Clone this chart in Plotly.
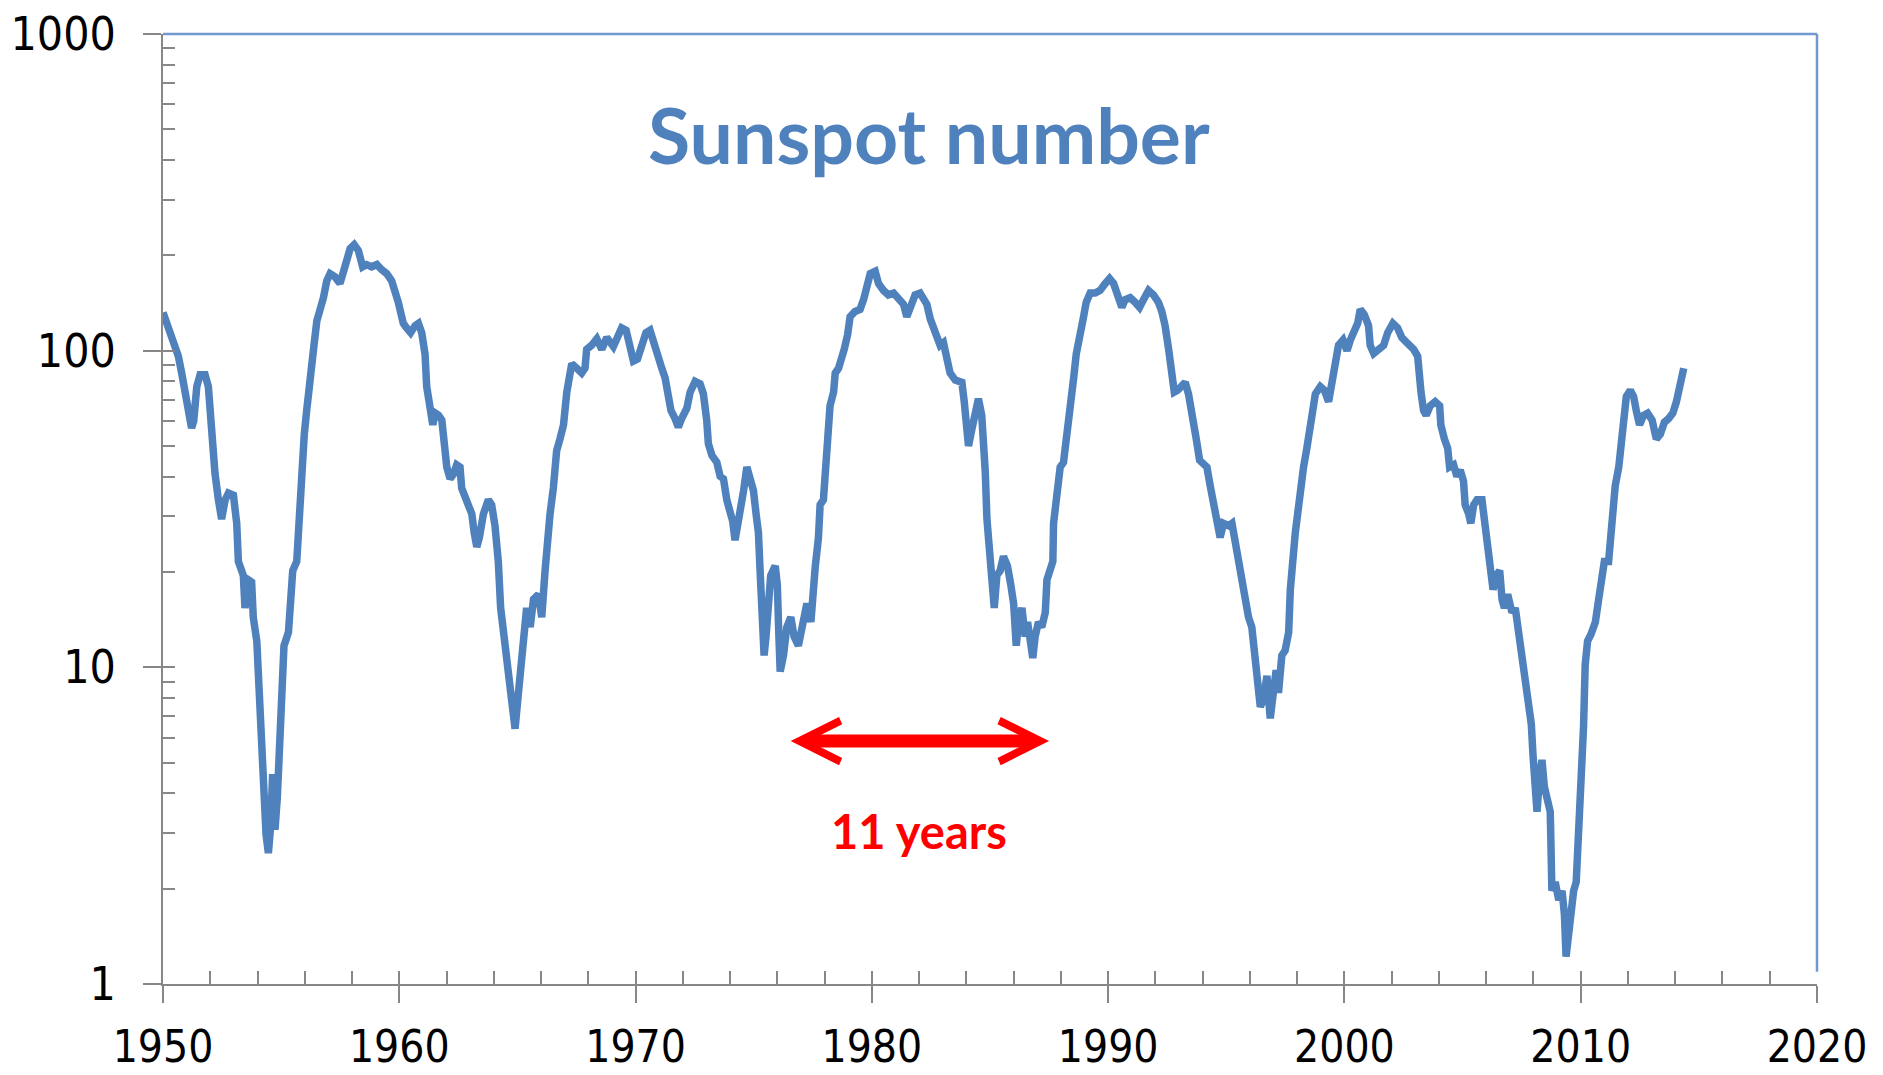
import math
import plotly.graph_objects as go

# Sunspot number read per ~0.15 yr, grouped by solar cycle (year, value)
cycle18_tail = [
    (1950.0, 132), (1950.23, 118), (1950.44, 106), (1950.65, 96), (1950.79, 85),
    (1950.93, 74), (1951.07, 61), (1951.21, 57), (1951.3, 60), (1951.43, 77),
    (1951.57, 84), (1951.78, 84), (1951.92, 77), (1951.99, 65), (1952.13, 53),
    (1952.2, 41), (1952.34, 34), (1952.48, 29.4), (1952.63, 33.8), (1952.77, 35.5),
    (1952.98, 35), (1953.12, 28.5), (1953.19, 21.6), (1953.4, 19.5), (1953.47, 15.4),
    (1953.61, 18.9), (1953.75, 18.6), (1953.82, 14.4), (1953.97, 12.1), (1954.04, 9.5),
    (1954.11, 7.7), (1954.18, 5.5), (1954.25, 4.05), (1954.36, 2.97), (1954.46, 2.59),
]

cycle19 = [
    (1954.56, 3.18), (1954.64, 4.6), (1954.74, 3.07), (1954.84, 3.9), (1954.93, 5.7),
    (1955.02, 9.2), (1955.12, 11.7), (1955.31, 12.9), (1955.42, 16.4), (1955.49, 20.2),
    (1955.66, 21.6), (1955.73, 27.5), (1955.83, 32.6), (1955.91, 45.9), (1955.98, 54.5),
    (1956.08, 64.7), (1956.18, 79.4), (1956.29, 97.5), (1956.39, 104), (1956.51, 124),
    (1956.65, 133), (1956.79, 147), (1956.93, 166), (1957.07, 175), (1957.28, 171),
    (1957.49, 163), (1957.66, 180), (1957.77, 197), (1957.92, 210), (1958.09, 216),
    (1958.27, 207), (1958.45, 184), (1958.62, 187), (1958.83, 184), (1959.05, 187),
    (1959.26, 180), (1959.47, 175), (1959.68, 166), (1959.82, 155), (1959.96, 142),
    (1960.1, 128), (1960.17, 122), (1960.31, 118), (1960.48, 114), (1960.67, 120),
    (1960.81, 122), (1960.95, 114), (1961.09, 97.5), (1961.16, 77), (1961.3, 63.6),
    (1961.42, 58.3), (1961.51, 63.6), (1961.66, 62.5), (1961.8, 60.4), (1961.9, 49.2),
    (1962.01, 42.9), (1962.15, 39.4), (1962.29, 40.7), (1962.43, 43.6), (1962.57, 42.9),
    (1962.64, 36.8), (1962.78, 34.9), (1962.93, 32.6), (1963.07, 30.5), (1963.17, 26.6),
    (1963.28, 24), (1963.39, 25.7), (1963.56, 30.5), (1963.77, 33.8), (1963.91, 32.6),
    (1964.05, 28), (1964.19, 21.6), (1964.29, 15.4), (1964.41, 12.7), (1964.55, 10.9),
    (1964.65, 9.2), (1964.76, 7.2), (1964.9, 6.4),
]

cycle20 = [
    (1965.0, 7.7), (1965.11, 9.8), (1965.25, 11.7), (1965.39, 15.4), (1965.54, 13.4),
    (1965.68, 16.4), (1965.89, 17), (1966.03, 14.4), (1966.17, 20.2), (1966.27, 25.7),
    (1966.38, 30.5), (1966.52, 36.8), (1966.66, 48.3), (1966.8, 52.6), (1966.95, 58.3),
    (1967.09, 74), (1967.16, 79.4), (1967.3, 91), (1967.51, 88), (1967.72, 85),
    (1967.86, 88), (1967.93, 101), (1968.14, 104), (1968.36, 109), (1968.57, 101),
    (1968.78, 110), (1969.06, 103), (1969.27, 110), (1969.41, 118), (1969.6, 116),
    (1969.77, 101), (1969.91, 92.7), (1970.08, 94), (1970.26, 104), (1970.44, 114),
    (1970.61, 116), (1970.78, 104), (1970.92, 96), (1971.11, 88), (1971.25, 82),
    (1971.39, 71.6), (1971.5, 64.7), (1971.67, 61), (1971.81, 57.4), (1971.95, 61),
    (1972.17, 65.8), (1972.31, 74), (1972.52, 80), (1972.73, 78.5), (1972.87, 73),
    (1973.01, 60.4), (1973.08, 50.9), (1973.23, 46.7), (1973.44, 44.4), (1973.58, 40.1),
    (1973.72, 39.4), (1973.86, 33.8), (1974.0, 31.5), (1974.11, 28.9), (1974.21, 25.2),
    (1974.31, 27.5), (1974.42, 31.5), (1974.57, 36.1), (1974.71, 42.9), (1974.85, 39.4),
    (1974.99, 36.1), (1975.1, 30.5), (1975.2, 26.6), (1975.27, 20.2), (1975.34, 14.4),
    (1975.44, 10.9), (1975.52, 12.5), (1975.62, 16.4), (1975.72, 19.5), (1975.91, 20.9),
    (1976.0, 18.2), (1976.06, 12.9), (1976.12, 9.7),
]

cycle21 = [
    (1976.26, 10.9), (1976.4, 13.4), (1976.57, 14.4), (1976.71, 12.5), (1976.89, 11.7),
    (1976.99, 12.9), (1977.13, 14.4), (1977.25, 15.9), (1977.42, 13.9), (1977.5, 17.6),
    (1977.6, 20.6), (1977.74, 25.7), (1977.81, 32.6), (1977.95, 33.8), (1978.02, 42.9),
    (1978.12, 56.4), (1978.23, 67), (1978.38, 74), (1978.45, 85), (1978.59, 88),
    (1978.73, 94), (1978.83, 101), (1978.97, 112), (1979.08, 128), (1979.29, 133),
    (1979.5, 135), (1979.65, 145), (1979.79, 163), (1979.93, 175), (1980.14, 178),
    (1980.28, 163), (1980.49, 155), (1980.7, 150), (1980.92, 152), (1981.13, 147),
    (1981.34, 140), (1981.48, 128), (1981.62, 135), (1981.83, 150), (1982.04, 152),
    (1982.33, 140), (1982.47, 126), (1982.68, 112), (1982.89, 104), (1983.03, 106),
    (1983.17, 94), (1983.31, 85), (1983.53, 80.7), (1983.81, 79.4), (1983.91, 69),
    (1983.99, 58.3), (1984.09, 50), (1984.23, 56.4), (1984.37, 62.5), (1984.51, 70.5),
    (1984.65, 62.5), (1984.72, 52.6), (1984.8, 41.4), (1984.87, 29.4), (1984.96, 23.2),
    (1985.08, 17), (1985.18, 15.4), (1985.29, 19.5), (1985.43, 20.2), (1985.57, 22.4),
    (1985.74, 20.9), (1985.88, 18.2), (1986.0, 15.9), (1986.11, 11.7), (1986.21, 13.9),
    (1986.35, 15.4), (1986.49, 12.5), (1986.59, 13.9), (1986.7, 12.1), (1986.81, 10.7),
]

cycle22 = [
    (1986.91, 12.5), (1987.05, 13.9), (1987.19, 13.4), (1987.34, 14.9), (1987.41, 18.9),
    (1987.55, 20.2), (1987.66, 21.6), (1987.69, 28.5), (1987.83, 36.1), (1987.97, 42.9),
    (1988.11, 44.4), (1988.25, 52.6), (1988.32, 60.4), (1988.47, 69), (1988.54, 82),
    (1988.65, 97.5), (1988.79, 108), (1988.96, 128), (1989.07, 142), (1989.24, 152),
    (1989.45, 152), (1989.66, 155), (1989.88, 163), (1990.06, 169), (1990.23, 163),
    (1990.4, 150), (1990.58, 137), (1990.72, 145), (1990.93, 147), (1991.15, 142),
    (1991.33, 137), (1991.5, 145), (1991.71, 155), (1991.92, 150), (1992.13, 142),
    (1992.27, 133), (1992.41, 120), (1992.56, 101), (1992.66, 85), (1992.8, 74),
    (1992.94, 75), (1993.12, 77), (1993.26, 79.4), (1993.4, 73), (1993.5, 67),
    (1993.61, 60.4), (1993.73, 52.6), (1993.87, 45.1), (1994.04, 43.6), (1994.18, 42.9),
    (1994.32, 37.4), (1994.46, 32.6), (1994.6, 28.5), (1994.74, 25.7), (1994.88, 28.5),
    (1995.1, 28), (1995.24, 28.5), (1995.38, 24.8), (1995.52, 21.6), (1995.66, 18.9),
    (1995.8, 15.4), (1995.94, 14.4), (1996.08, 13.4), (1996.2, 10.9), (1996.3, 8.9),
    (1996.44, 7.5), (1996.58, 8.0), (1996.72, 9.4), (1996.86, 6.9),
]

cycle23 = [
    (1997.0, 8.9), (1997.11, 9.8), (1997.21, 8.3), (1997.35, 10.9), (1997.49, 11.3),
    (1997.64, 12.9), (1997.71, 17.6), (1997.78, 21.6), (1997.92, 26.6), (1998.02, 30.5),
    (1998.13, 37.4), (1998.27, 42.9), (1998.41, 49.2), (1998.55, 56.4), (1998.67, 64.7),
    (1998.77, 73), (1998.98, 77), (1999.15, 75), (1999.33, 69), (1999.47, 79.4),
    (1999.61, 94), (1999.75, 104), (1999.94, 108), (2000.11, 100), (2000.25, 108),
    (2000.39, 114), (2000.56, 122), (2000.67, 135), (2000.84, 130), (2001.02, 120),
    (2001.09, 104), (2001.24, 98), (2001.45, 101), (2001.66, 104), (2001.83, 114),
    (2002.05, 122), (2002.25, 118), (2002.43, 110), (2002.64, 106), (2002.93, 101),
    (2003.1, 96), (2003.14, 85), (2003.24, 74), (2003.35, 64.7), (2003.46, 62.5),
    (2003.63, 67), (2003.84, 69), (2004.03, 67), (2004.08, 58.3), (2004.23, 52.6),
    (2004.37, 49.2), (2004.45, 42.9), (2004.62, 43.6), (2004.76, 40.1), (2004.9, 42),
    (2005.04, 38.7), (2005.11, 32.6), (2005.26, 30.5), (2005.35, 28.5), (2005.47, 32.6),
    (2005.61, 33.8), (2005.82, 33.8), (2005.96, 28.5), (2006.06, 24.8), (2006.17, 20.2),
    (2006.29, 17.6), (2006.43, 19.5), (2006.57, 20.2), (2006.67, 16.4), (2006.77, 15.4),
    (2006.91, 17), (2007.09, 14.9), (2007.23, 15.4), (2007.33, 13.4), (2007.44, 11.7),
    (2007.56, 9.8), (2007.65, 8.6), (2007.8, 7.7), (2007.91, 6.6), (2007.98, 5.3),
    (2008.08, 4.3), (2008.15, 3.5), (2008.26, 4.5), (2008.36, 5.1), (2008.46, 4.2),
    (2008.57, 3.9), (2008.71, 3.5), (2008.74, 2.78), (2008.78, 1.97), (2008.92, 2.1),
    (2009.07, 1.84), (2009.21, 1.97), (2009.31, 1.66), (2009.38, 1.22),
]

cycle24 = [
    (2009.49, 1.5), (2009.59, 1.84), (2009.7, 1.97), (2009.81, 2.1), (2009.87, 2.6),
    (2009.95, 3.3), (2010.05, 4.6), (2010.12, 6.5), (2010.19, 10.2), (2010.29, 12.1),
    (2010.43, 12.7), (2010.62, 13.9), (2010.76, 16.4), (2010.9, 20.2), (2011.0, 21.6),
    (2011.18, 21.6), (2011.25, 25.7), (2011.37, 32.6), (2011.46, 37.4), (2011.61, 42.9),
    (2011.71, 49.2), (2011.82, 60.4), (2011.93, 71.6), (2012.1, 75), (2012.24, 71.6),
    (2012.35, 64.7), (2012.49, 58.3), (2012.66, 62.5), (2012.83, 63.5), (2013.02, 60.4),
    (2013.2, 52.6), (2013.37, 54.5), (2013.54, 59.4), (2013.72, 61), (2013.9, 63.5),
    (2014.05, 69), (2014.19, 79.4), (2014.29, 86.5), (2014.36, 88),
]

x_ticks = [1950, 1960, 1970, 1980, 1990, 2000, 2010, 2020]
y_ticks = [1, 10, 100, 1000]
y_tick_labels = ["1", "10", "100", "1000"]

# Period annotation: an 11-year span centred on 1982, drawn at SSN ~ 5.85
period_years = 11
period_center = 1982.0
period_level = 5.85

segments = [cycle18_tail, cycle19, cycle20, cycle21, cycle22, cycle23, cycle24]
years = [p[0] for seg in segments for p in seg]
ssn = [p[1] for seg in segments for p in seg]

AXIS_GREY = "#878787"
SERIES_BLUE = "#4f81bd"
FRAME_BLUE = "#7099d0"
FONT_FAMILY = "DejaVu Sans Condensed, Liberation Sans, sans-serif"
X_TICK_FONT = dict(family=FONT_FAMILY, size=44, color="#000000")
Y_TICK_FONT = dict(family=FONT_FAMILY, size=46, color="#000000")

# Inner (inside) tick positions: every 2 years, and 1..9 per decade
x_inner = list(range(1950, 2021, 2))
y_inner = [m * 10 ** d for d in range(0, 3) for m in range(1, 10)] + [1000]

fig = go.Figure()
fig.add_trace(go.Scatter(
    x=years, y=ssn, mode="lines",
    line=dict(color=SERIES_BLUE, width=7.5),
    hoverinfo="skip", showlegend=False,
))
# empty trace that carries the inside-tick overlay axes
fig.add_trace(go.Scatter(
    x=[None], y=[None], xaxis="x2", yaxis="y2", mode="lines",
    hoverinfo="skip", showlegend=False,
))

fig.update_layout(
    width=1883, height=1075,
    margin=dict(l=163, r=66, t=34, b=91, autoexpand=False),
    paper_bgcolor="white", plot_bgcolor="white",
    showlegend=False,
    xaxis=dict(
        range=[1950, 2020], tickmode="array", tickvals=x_ticks,
        ticks="outside", ticklen=17, tickwidth=2, tickcolor=AXIS_GREY,
        showline=True, linecolor=AXIS_GREY, linewidth=2,
        showgrid=False, zeroline=False, tickfont=X_TICK_FONT,
        ticklabelstandoff=6, automargin=False, fixedrange=True,
    ),
    yaxis=dict(
        type="log", range=[0, 3], tickmode="array",
        tickvals=y_ticks, ticktext=y_tick_labels,
        ticks="outside", ticklen=18, tickwidth=2, tickcolor=AXIS_GREY,
        showline=True, linecolor=AXIS_GREY, linewidth=2,
        showgrid=False, zeroline=False, tickfont=Y_TICK_FONT,
        ticklabelstandoff=18, automargin=False, fixedrange=True,
    ),
    xaxis2=dict(
        overlaying="x", anchor="y2", side="bottom",
        range=[1950, 2020], tickmode="array", tickvals=x_inner,
        ticks="inside", ticklen=13, tickwidth=2, tickcolor=AXIS_GREY,
        showticklabels=False, showline=False, showgrid=False, zeroline=False,
        fixedrange=True,
    ),
    yaxis2=dict(
        overlaying="y", anchor="x2", side="left",
        type="log", range=[0, 3], tickmode="array", tickvals=y_inner,
        ticks="inside", ticklen=12, tickwidth=2, tickcolor=AXIS_GREY,
        showticklabels=False, showline=False, showgrid=False, zeroline=False,
        fixedrange=True,
    ),
    shapes=[
        dict(type="line", xref="paper", yref="paper", x0=0, x1=1, y0=1, y1=1,
             line=dict(color=FRAME_BLUE, width=2.5), layer="below"),
        dict(type="line", xref="paper", yref="paper", x0=1, x1=1, y0=0.013, y1=1,
             line=dict(color=FRAME_BLUE, width=2.5), layer="below"),
    ],
)

level_log = math.log10(period_level)
fig.add_annotation(
    x=period_center + period_years / 2, y=level_log,
    ax=period_center - period_years / 2, ay=level_log,
    xref="x", yref="y", axref="x", ayref="y",
    text="", showarrow=True,
    arrowside="end+start", arrowhead=5, startarrowhead=5,
    arrowsize=0.62, startarrowsize=0.62, arrowwidth=13, arrowcolor="#ff0000",
)
fig.add_annotation(
    x=period_center, y=math.log10(3.05), xref="x", yref="y",
    text="11 years", showarrow=False, yanchor="middle",
    font=dict(family="Lato", size=47, color="#ff0000", weight=700),
)
fig.add_annotation(
    x=0.463, y=0.895, xref="paper", yref="paper",
    text="Sunspot number", showarrow=False, yanchor="middle",
    font=dict(family="Lato", size=77, color=SERIES_BLUE, weight=700),
)

fig.write_html("out.html")
